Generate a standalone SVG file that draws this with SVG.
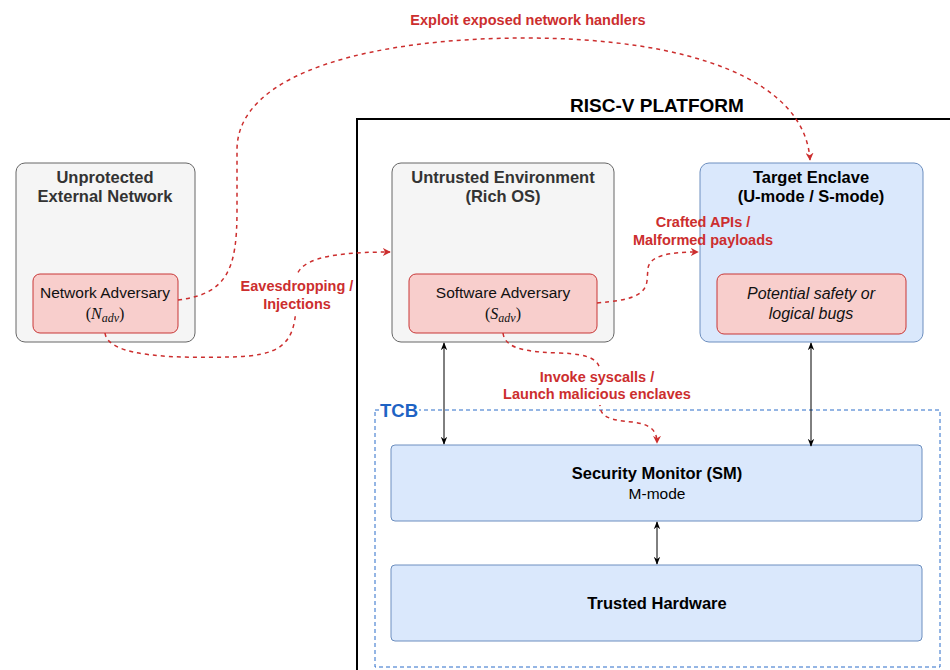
<svg xmlns="http://www.w3.org/2000/svg" width="950" height="670" viewBox="0 0 950 670">
<style>
.gray{fill:#f5f5f5;stroke:#666666;stroke-width:1}
.blue{fill:#dae8fc;stroke:#6c8ebf;stroke-width:1}
.red{fill:#f8cecc;stroke:#c83737;stroke-width:1}
.t{font-family:"Liberation Sans",Arial,sans-serif;text-anchor:middle}
.b{font-weight:bold}
.lbl{font-family:"Liberation Sans",Arial,sans-serif;font-weight:bold;font-size:14.5px;fill:#cc2e2e;text-anchor:middle}
.math{font-family:"Liberation Serif","Times New Roman",serif;font-size:16px;text-anchor:middle;fill:#111}
.rd{fill:none;stroke:#cc2e2e;stroke-width:1.5;stroke-dasharray:4 4}
.bk{fill:none;stroke:#000;stroke-width:1}
</style>
<defs>
<marker id="ra" viewBox="0 0 10 10" refX="9" refY="5" markerWidth="8" markerHeight="8" markerUnits="userSpaceOnUse" orient="auto"><path d="M0,0 L10,5 L0,10 L3,5 Z" fill="#cc2e2e"/></marker>
<marker id="ka" viewBox="0 0 10 10" refX="9" refY="5" markerWidth="8" markerHeight="8" markerUnits="userSpaceOnUse" orient="auto-start-reverse"><path d="M0,1 L10,5 L0,9 L3,5 Z" fill="#000"/></marker>
</defs>

<g id="platform">
<rect x="357" y="119" width="600" height="560" fill="#ffffff" stroke="#000" stroke-width="2"/>
<text x="657" y="112" class="t b" font-size="19" fill="#000">RISC-V PLATFORM</text>
</g>

<g id="tcb">
<rect x="375" y="410" width="565" height="257" fill="none" stroke="#2a6dc9" stroke-width="1" stroke-dasharray="4 3"/>
<rect x="379" y="401" width="40" height="18" fill="#ffffff"/>
<text x="380" y="417" font-family="Liberation Sans,Arial,sans-serif" font-weight="bold" font-size="18.5" fill="#1e63c4">TCB</text>
</g>

<g id="external-network">
<rect x="16" y="163" width="179" height="179" rx="9" class="gray"/>
<text x="105" y="183" class="t b" font-size="16.5" fill="#333">Unprotected</text>
<text x="105" y="202" class="t b" font-size="16.5" fill="#333">External Network</text>
</g>

<g id="network-adversary">
<rect x="33" y="274" width="145" height="59" rx="7" class="red"/>
<text x="105" y="298" class="t" font-size="15.5" fill="#111">Network Adversary</text>
<text x="105" y="319" class="math">(<tspan font-style="italic">N</tspan><tspan font-style="italic" font-size="12" dy="3">adv</tspan><tspan dy="-3">)</tspan></text>
</g>

<g id="untrusted-env">
<rect x="392" y="163" width="222" height="179" rx="9" class="gray"/>
<text x="503" y="183" class="t b" font-size="16.5" fill="#333">Untrusted Environment</text>
<text x="503" y="202" class="t b" font-size="16.5" fill="#333">(Rich OS)</text>
</g>

<g id="software-adversary">
<rect x="409" y="274" width="188" height="59" rx="7" class="red"/>
<text x="503" y="298" class="t" font-size="15.5" fill="#111">Software Adversary</text>
<text x="503" y="319" class="math">(<tspan font-style="italic">S</tspan><tspan font-style="italic" font-size="12" dy="3">adv</tspan><tspan dy="-3">)</tspan></text>
</g>

<g id="target-enclave">
<rect x="700" y="163" width="223" height="179" rx="9" class="blue"/>
<text x="811" y="183" class="t b" font-size="16.5" fill="#000">Target Enclave</text>
<text x="811" y="202" class="t b" font-size="16.5" fill="#000">(U-mode / S-mode)</text>
</g>

<g id="bugs">
<rect x="717" y="274" width="189" height="60" rx="7" class="red"/>
<text x="811" y="299" class="t" font-size="16" font-style="italic" fill="#111">Potential safety or</text>
<text x="811" y="319" class="t" font-size="16" font-style="italic" fill="#111">logical bugs</text>
</g>

<g id="security-monitor">
<rect x="391" y="445" width="531" height="76" rx="4" class="blue"/>
<text x="657" y="479" class="t b" font-size="16.5" fill="#000">Security Monitor (SM)</text>
<text x="657" y="499" class="t" font-size="15.5" fill="#000">M-mode</text>
</g>

<g id="trusted-hardware">
<rect x="391" y="565" width="531" height="76" rx="4" class="blue"/>
<text x="657" y="609" class="t b" font-size="16.5" fill="#000">Trusted Hardware</text>
</g>

<g id="connectors">
<path class="bk" d="M444,343 L444,444" marker-start="url(#ka)" marker-end="url(#ka)"/>
<path class="bk" d="M811,343 L811,446" marker-start="url(#ka)" marker-end="url(#ka)"/>
<path class="bk" d="M657,522 L657,564" marker-start="url(#ka)" marker-end="url(#ka)"/>

<path class="rd" d="M178,300 C228,294 237,268 237,210 L237,150 C237,70 380,38 525,38 C690,38 805,80 810,160" marker-end="url(#ra)"/>
<path class="rd" d="M105,333 C108,358 180,358 230,357 C280,356 295,345 296,305 L296,280 C297,262 320,252 390,252" marker-end="url(#ra)"/>
<path class="rd" d="M597,303 C630,300 645,296 647,281 L648,268 C650,256 668,252 698,252" marker-end="url(#ra)"/>
<path class="rd" d="M503,333 C505,350 530,352 560,353 C590,354 600,360 600,372 L600,405 C600,418 612,420 632,422 C650,424 657,430 657,443" marker-end="url(#ra)"/>

<text x="528" y="25" class="lbl">Exploit exposed network handlers</text>
<rect x="236" y="276" width="119" height="38" fill="#ffffff"/>
<text x="297" y="291" class="lbl">Eavesdropping /</text>
<text x="297" y="309" class="lbl">Injections</text>
<text x="703" y="227" class="lbl">Crafted APIs /</text>
<text x="703" y="245" class="lbl">Malformed payloads</text>
<rect x="498" y="367" width="198" height="38" fill="#ffffff"/>
<text x="597" y="382" class="lbl">Invoke syscalls /</text>
<text x="597" y="399" class="lbl">Launch malicious enclaves</text>
</g>
</svg>
